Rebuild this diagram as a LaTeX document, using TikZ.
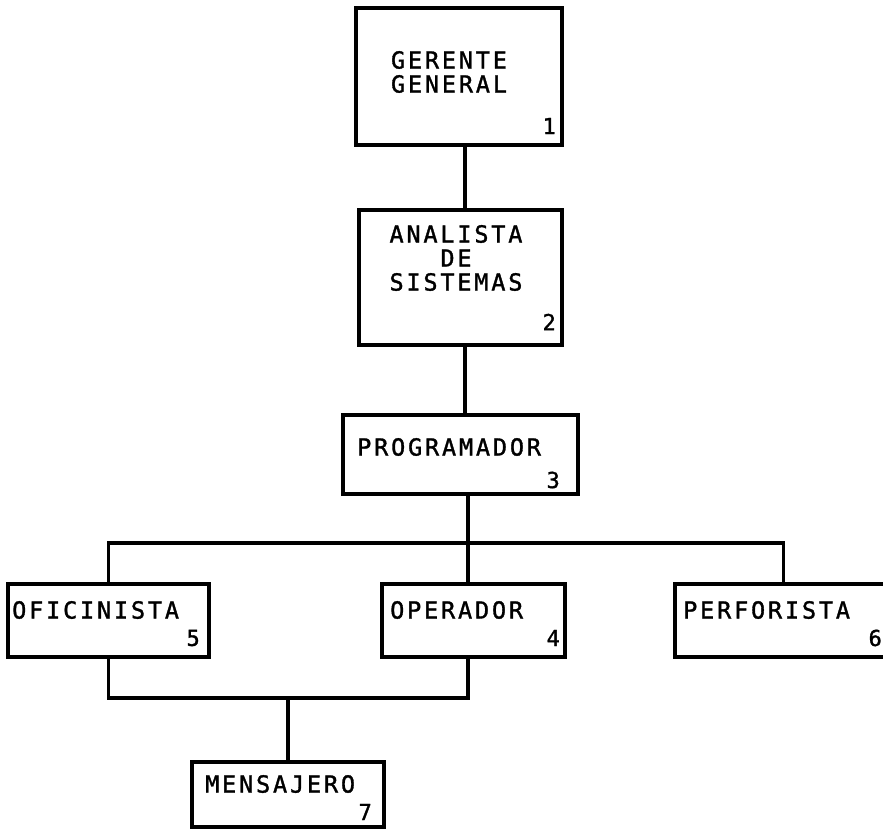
\documentclass[tikz,border=0pt]{standalone}
\usepackage{fontspec}
\usetikzlibrary{calc}
\newfontfamily\typer[LetterSpace=12,FakeBold=1.4]{DejaVu Sans Mono}
\begin{document}
\begin{tikzpicture}[x=1pt,y=-1pt,
  box/.style={draw=black,line width=3.2pt,rectangle,inner sep=0pt},
  wire/.style={draw=black,line width=3.2pt},
  title/.style={inner sep=0pt,font=\typer\fontsize{23.5}{24}\selectfont},
  num/.style={inner sep=0pt,anchor=east,font=\typer\fontsize{22}{22}\selectfont}
]
\useasboundingbox (0,0) rectangle (883,829);

% boxes
\node[box,minimum width=206pt,minimum height=137pt] (g1) at (459,76.5) {};
\node[box,minimum width=203pt,minimum height=135pt] (a2) at (460.5,277.5) {};
\node[box,minimum width=235pt,minimum height=79pt] (p3) at (460.5,454.5) {};
\node[box,minimum width=201pt,minimum height=73pt] (o5) at (108.5,620.5) {};
\node[box,minimum width=183pt,minimum height=73pt] (op4) at (473.5,620.5) {};
\node[box,minimum width=217pt,minimum height=73pt] (pf6) at (783.5,620.5) {};
\node[box,minimum width=192pt,minimum height=65pt] (m7) at (288,794.5) {};

% titles
\node[title,align=center] (g1t) at (449,72) {GERENTE\\GENERAL};
\node[title,align=center] (a2t) at (456,258) {ANALISTA\\DE\\SISTEMAS};
\node[title,anchor=west] (p3t) at (357,447) {PROGRAMADOR};
\node[title,anchor=west] (o5t) at (12,610) {OFICINISTA};
\node[title,anchor=west] (op4t) at (390,610) {OPERADOR};
\node[title,anchor=west] (pf6t) at (683,610) {PERFORISTA};
\node[title,anchor=west] (m7t) at (205,784) {MENSAJERO};

% numbers
\node[num] (g1n) at (556,126) {1};
\node[num] (a2n) at (556,322) {2};
\node[num] (p3n) at (560,480) {3};
\node[num] (o5n) at (200,638) {5};
\node[num] (op4n) at (560,638) {4};
\node[num] (pf6n) at (882,638) {6};
\node[num] (m7n) at (372,812) {7};

% junction points of the two buses
\coordinate (jc) at (468,543);
\coordinate (lb) at (288,698);

% connectors
\draw[wire] (g1.south -| 465,0) -- (a2.north -| 465,0);
\draw[wire] (a2.south -| 465,0) -- (p3.north -| 465,0);
\draw[wire] (p3.south -| jc) -- (op4.north -| jc);
\draw[wire] (o5.north) |- (pf6.north |- jc) -- (pf6.north);
\draw[wire] (o5.south) |- (lb -| jc) -- (op4.south -| jc);
\draw[wire] (lb) -- (m7.north);
\end{tikzpicture}
\end{document}
